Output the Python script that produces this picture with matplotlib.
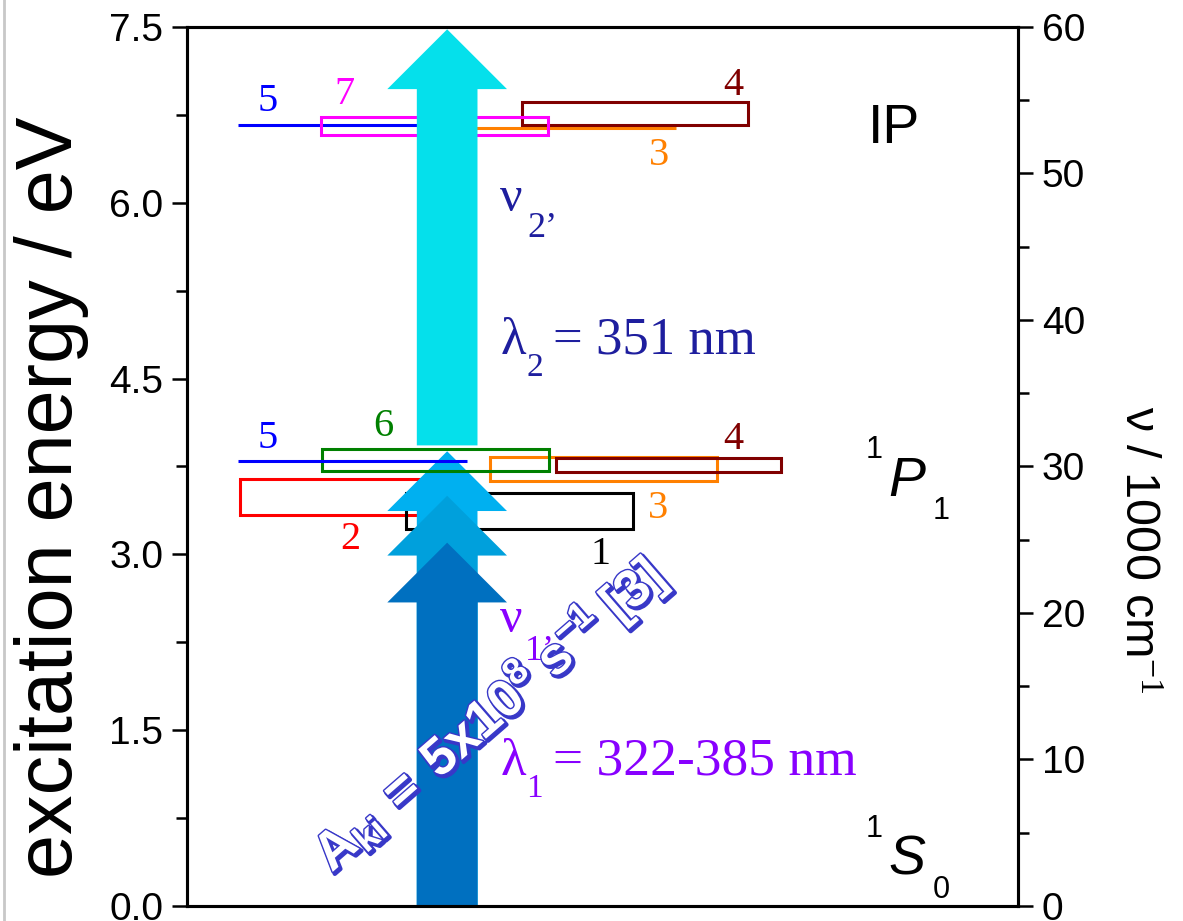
import numpy as np
import matplotlib
matplotlib.use('Agg')
import matplotlib.pyplot as plt
from matplotlib.patches import Rectangle, FancyArrow
from matplotlib.lines import Line2D
import matplotlib.patheffects as pe

plt.rcParams['font.family'] = 'Liberation Sans'
plt.rcParams['mathtext.fontset'] = 'custom'
plt.rcParams['mathtext.rm'] = 'Liberation Serif'
plt.rcParams['mathtext.it'] = 'Liberation Serif:italic'
plt.rcParams['mathtext.bf'] = 'Liberation Sans:bold'

# level bands near 1P1 (eV), horizontal span in arbitrary units
low_ids = ['2', '1', '3', '4', '6', '5']
low_emin = [3.34, 3.22, 3.63, 3.70, 3.71, 3.80]
low_emax = [3.64, 3.52, 3.83, 3.82, 3.90, 3.80]
low_x0 = [0.64, 2.64, 3.65, 4.44, 1.62, 0.61]
low_x1 = [3.00, 5.37, 6.38, 7.15, 4.36, 3.37]

# level bands near IP (eV)
up_ids = ['5', '3', '4', '7']
up_emin = [6.66, 6.64, 6.66, 6.58]
up_emax = [6.66, 6.64, 6.86, 6.73]
up_x0 = [0.61, 2.90, 4.03, 1.61]
up_x1 = [3.16, 5.88, 6.75, 4.34]

# excitation arrows (eV)
pump_colors = ['#00B0F0', '#00A0DC', '#0070C0']
pump_tip = [3.88, 3.50, 3.10]
pump_tail = [0.0, 0.0, 0.0]
probe_tail = 3.93
probe_tip = 7.48

colors = {'1': 'black', '2': '#FF0000', '3': '#FF8000', '4': '#800000',
          '5': '#0000FF', '6': '#008000', '7': '#FF00FF'}

fig = plt.figure(figsize=(11.83, 9.21), dpi=100)
ax = fig.add_axes([0.1581, 0.0163, 0.7025, 0.9544])
ax.set_xlim(0, 10)
ax.set_ylim(0, 7.5)

def draw_band(i, e0, e1, x0, x1, z):
    c = colors[i]
    if e1 - e0 < 1e-6:
        ax.plot([x0, x1], [e0, e0], color=c, lw=2.2, zorder=z, solid_capstyle='butt')
    else:
        ax.add_patch(Rectangle((x0, e0), x1 - x0, e1 - e0, fill=False,
                               edgecolor=c, lw=2.2, zorder=z))

for i, e0, e1, x0, x1 in zip(low_ids, low_emin, low_emax, low_x0, low_x1):
    z = 3 if i in ('5', '6') else 1
    draw_band(i, e0, e1, x0, x1, z)
for i, e0, e1, x0, x1 in zip(up_ids, up_emin, up_emax, up_x0, up_x1):
    draw_band(i, e0, e1, x0, x1, 1)

# arrows
xc, shaft, head, hlen = 3.13, 0.73, 1.44, 0.51
for c, t0, t1 in zip(pump_colors, pump_tail, pump_tip):
    ax.add_patch(FancyArrow(xc, t0, 0, t1 - t0, width=shaft, head_width=head,
                            head_length=hlen, length_includes_head=True,
                            color=c, lw=0, zorder=2))
ax.add_patch(FancyArrow(xc, probe_tail, 0, probe_tip - probe_tail, width=shaft,
                        head_width=head, head_length=hlen, length_includes_head=True,
                        color='#05E0EB', lw=0, zorder=2))

# band labels
lab_txt = ['5', '7', '4', '3', '5', '6', '4', '3', '2', '1']
lab_x = [0.97, 1.90, 6.57, 5.68, 0.97, 2.36, 6.57, 5.67, 1.96, 4.97]
lab_y = [6.86, 6.92, 7.00, 6.40, 3.99, 4.09, 3.98, 3.39, 3.13, 3.00]
for t, x, y in zip(lab_txt, lab_x, lab_y):
    ax.text(x, y, t, color=colors[t], fontsize=29, family='Liberation Serif',
            ha='center', va='center', zorder=4)

# state labels
ax.text(8.19, 6.51, 'IP', fontsize=40, ha='left', va='baseline')
for base, sup, sub, y in [('P', '1', '1', 3.50), ('S', '1', '0', 0.27)]:
    ax.text(8.44, y, base, fontsize=40, style='italic', ha='left', va='baseline')
    ax.text(8.17, y + 0.32, sup, fontsize=22, ha='left', va='baseline')
    ax.text(8.97, y - 0.20, sub, fontsize=22, ha='left', va='baseline')

# wavelengths
navy = '#1E1E9E'
purple = '#8800FF'
serif = 'Liberation Serif'
ax.text(3.77, 5.93, 'ν', fontsize=36, color=navy, family=serif, va='baseline')
ax.text(4.09, 5.71, '2’', fontsize=26, color=navy, family=serif, va='baseline')
ax.text(3.77, 4.71, 'λ', fontsize=38, color=navy, family=serif, va='baseline')
ax.text(4.08, 4.52, '2', fontsize=24, color=navy, family=serif, va='baseline')
ax.text(4.40, 4.71, '= 351 nm', fontsize=38, color=navy, family=serif, va='baseline')
ax.text(3.77, 2.335, 'ν', fontsize=36, color=purple, family=serif, va='baseline')
ax.text(4.07, 2.10, '1’', fontsize=26, color=purple, family=serif, va='baseline')
ax.text(3.77, 1.12, 'λ', fontsize=38, color=purple, family=serif, va='baseline')
ax.text(4.08, 0.93, '1', fontsize=24, color=purple, family=serif, va='baseline')
ax.text(4.40, 1.12, '= 322-385 nm', fontsize=38.5, color=purple, family=serif, va='baseline')

# transition probability
ax.text(3.62, 1.64, r"$\mathbf{A_{ki}\ =\ 5x10^{8}\ s^{-1}\ [3]}$", fontsize=38,
        color='white', rotation=41, rotation_mode='anchor', ha='center', va='center',
        zorder=5,
        path_effects=[pe.Stroke(linewidth=3, foreground='#3838C8', offset=(1.5, -1.5)),
                      pe.Stroke(linewidth=2, foreground='#3838C8'), pe.Normal()])

# axes styling
for s in ax.spines.values():
    s.set_linewidth(2.2)
ax.set_xticks([])
ax.set_yticks(np.arange(0, 7.51, 1.5))
ax.set_yticks(np.arange(0, 7.51, 0.75), minor=True)
ax.set_yticklabels(['%.1f' % v for v in np.arange(0, 7.51, 1.5)])
ax.tick_params(axis='y', which='major', direction='out', length=11, width=1.8,
               labelsize=28, pad=6)
ax.tick_params(axis='y', which='minor', direction='out', length=8, width=1.8)
ax.set_ylabel('excitation energy / eV', fontsize=57)
ax.yaxis.set_label_coords(-0.118, 0.465)

ax2 = ax.twinx()
ax2.set_ylim(0, 60)
ax2.set_yticks(np.arange(0, 61, 10))
ax2.set_yticks(np.arange(0, 61, 5), minor=True)
ax2.tick_params(axis='y', which='major', direction='out', length=11, width=1.8,
                labelsize=28, pad=6)
ax2.tick_params(axis='y', which='minor', direction='out', length=8, width=1.8)
for s in ax2.spines.values():
    s.set_linewidth(2.2)
ax2.set_ylabel(r'ν / 1000 cm$^{-1}$', fontsize=35, rotation=270)
ax2.yaxis.set_label_coords(1.171, 0.405)

fig.add_artist(Line2D([4 / 1183, 4 / 1183], [0, 1], color='#C8C8C8', lw=2))

fig.savefig('out.png', dpi=100)
